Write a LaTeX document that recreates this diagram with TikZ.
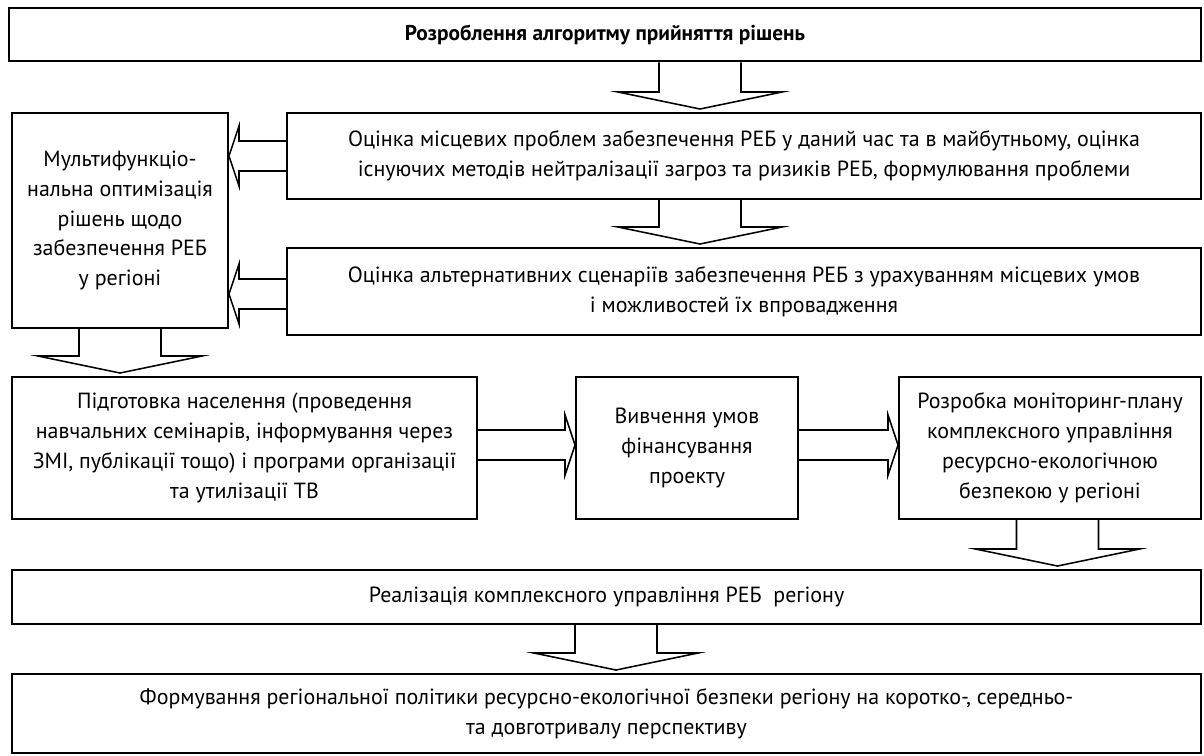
\documentclass[tikz,border=0pt]{standalone}
\usepackage{fontspec}
\setmainfont{PT Sans}
\usetikzlibrary{calc}

\newcommand{\pxu}{0.025cm}

\tikzset{
  box/.style={draw, line width=1.4pt, align=center, inner sep=2pt,
    font=\fontsize{15.6}{21.3}\selectfont},
  blockline/.style={line width=1.1pt, line join=miter},
}

\begin{document}
\begin{tikzpicture}[x=0.025cm, y=-0.025cm]
  \useasboundingbox (0,0) rectangle (1204,756);

  % Boxes (centre at pixel coordinates, size in pixels)
  \node[box, line width=2pt, minimum width=1192*\pxu, minimum height=53*\pxu] (title) at (605,34.5)
    {\fontsize{15.2}{18}\selectfont\bfseries Розроблення алгоритму прийняття рішень};
  \node[box, minimum width=914*\pxu, minimum height=86*\pxu] (eval) at (744,156)
    {Оцінка місцевих проблем забезпечення РЕБ у даний час та в майбутньому, оцінка\\
     існуючих методів нейтралізації загроз та ризиків РЕБ, формулювання проблеми};
  \node[box, minimum width=914*\pxu, minimum height=87*\pxu] (alt) at (744,291.5)
    {Оцінка альтернативних сценаріїв забезпечення РЕБ з урахуванням місцевих умов\\
     і можливостей їх впровадження};
  \node[box, minimum width=216*\pxu, minimum height=215*\pxu] (multi) at (120,220.5)
    {Мультифункціо-\\нальна оптимізація\\рішень щодо\\забезпечення РЕБ\\у регіоні};
  \node[box, minimum width=465*\pxu, minimum height=142*\pxu] (train) at (244.5,448)
    {Підготовка населення (проведення\\навчальних семінарів, інформування через\\
     ЗМІ, публікації тощо) і програми організації\\та утилізації ТВ};
  \node[box, minimum width=222*\pxu, minimum height=142*\pxu] (fund) at (687,448)
    {Вивчення умов\\фінансування\\проекту};
  \node[box, minimum width=302*\pxu, minimum height=142*\pxu] (plan) at (1050,448)
    {Розробка моніторинг-плану\\комплексного управління\\ресурсно-екологічною\\безпекою у регіоні};
  \node[box, minimum width=1189*\pxu, minimum height=54*\pxu] (impl) at (606.5,597)
    {Реалізація комплексного управління РЕБ~ регіону};
  \node[box, minimum width=1189*\pxu, minimum height=79*\pxu] (policy) at (606.5,713.5)
    {Формування регіональної політики ресурсно-екологічної безпеки регіону на коротко-, середньо-\\
     та довготривалу перспективу};

  % Downward block arrows
  \foreach \ax/\from/\to in {700/title/eval, 700/eval/alt, 120/multi/train,
                             1057.5/plan/impl, 616/impl/policy} {
    \coordinate (tail) at (\ax,0 |- \from.south);
    \coordinate (tip) at ($(\ax,0 |- \to.north)+(0,-3)$);
    \coordinate (base) at ($(tip)!0.425cm!(tail)$);
    \draw[blockline] ($(tail)!1.025cm!90:(tip)$) -- ($(base)!1.025cm!90:(tip)$)
      -- ($(base)!2.05cm!90:(tip)$) -- (tip) -- ($(base)!2.05cm!-90:(tip)$)
      -- ($(base)!1.025cm!-90:(tip)$) -- ($(tail)!1.025cm!-90:(tip)$);
  }

  % Sideways block arrows
  \foreach \ay/\from/\fa/\to/\ta in {156/eval/west/multi/east, 294/alt/west/multi/east,
                                     445/train/east/fund/west, 445/fund/east/plan/west} {
    \coordinate (tail) at (\from.\fa |- 0,\ay);
    \coordinate (tip) at (\to.\ta |- 0,\ay);
    \coordinate (base) at ($(tip)!0.25cm!(tail)$);
    \draw[blockline] ($(tail)!0.375cm!90:(tip)$) -- ($(base)!0.375cm!90:(tip)$)
      -- ($(base)!0.75cm!90:(tip)$) -- (tip) -- ($(base)!0.75cm!-90:(tip)$)
      -- ($(base)!0.375cm!-90:(tip)$) -- ($(tail)!0.375cm!-90:(tip)$);
  }
\end{tikzpicture}
\end{document}
